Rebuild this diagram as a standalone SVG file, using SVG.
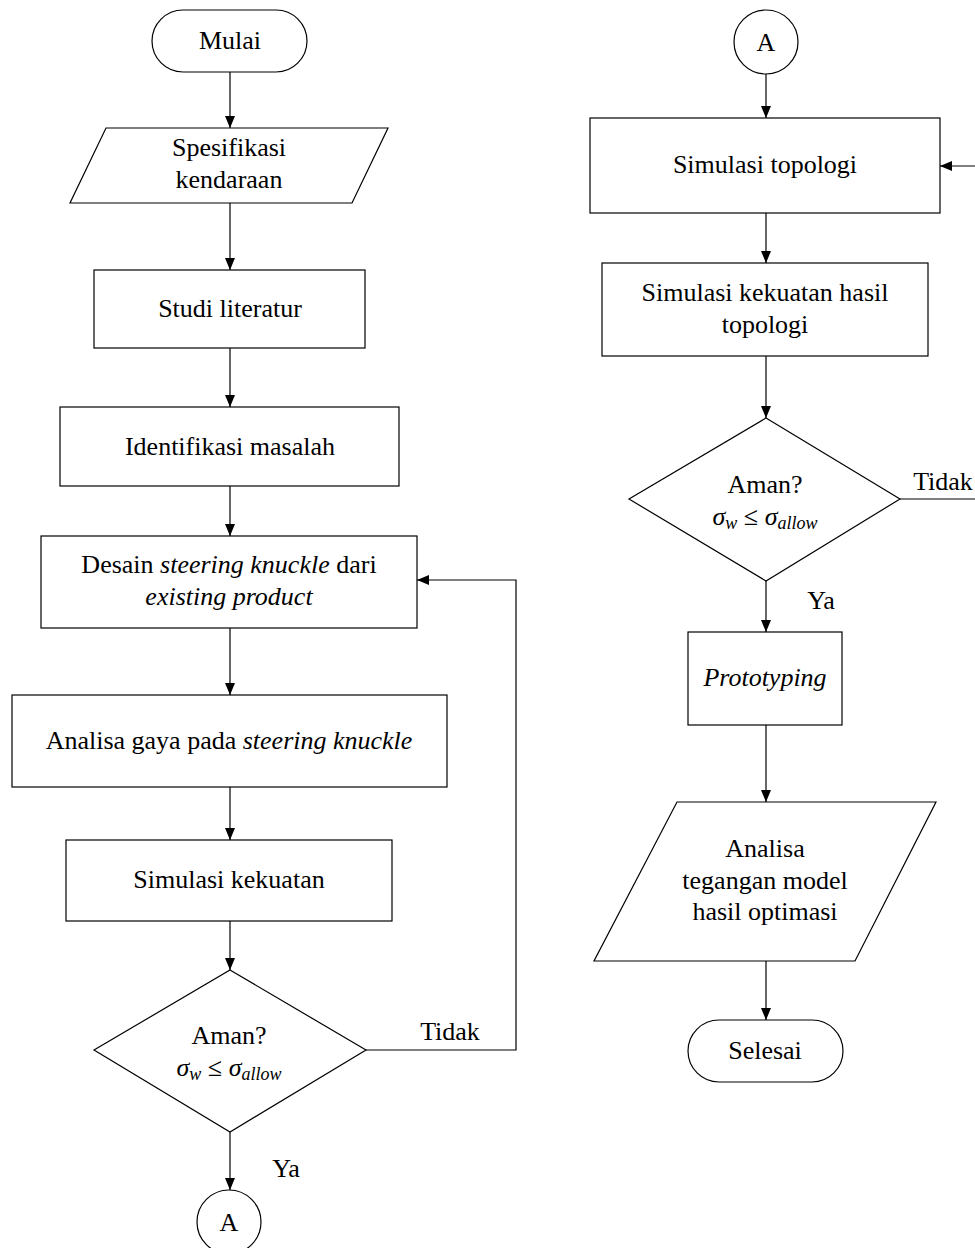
<svg xmlns="http://www.w3.org/2000/svg" width="975" height="1248" viewBox="0 0 975 1248">
<defs>
<marker id="arr" markerWidth="12" markerHeight="10" refX="12" refY="5" orient="auto" markerUnits="userSpaceOnUse">
<path d="M0,0 L12,5 L0,10 Z" fill="#000"/>
</marker>
<style>
.s{fill:#fff;stroke:#000;stroke-width:1.2}
.c{fill:none;stroke:#000;stroke-width:1.2;marker-end:url(#arr)}
text{font-size:26px;fill:#000;text-anchor:middle}
.i{font-style:italic}
.f{font-size:26px;font-style:italic}
.sub{font-size:18px;font-style:italic}
</style>
</defs>
<rect width="975" height="1248" fill="#fff"/>
<g font-family="'Liberation Serif', 'Times New Roman', Times, serif">
<g id="connectors">
<line class="c" x1="230" y1="72" x2="230" y2="128"/>
<line class="c" x1="230" y1="203" x2="230" y2="270"/>
<line class="c" x1="230" y1="348" x2="230" y2="407"/>
<line class="c" x1="230" y1="486" x2="230" y2="536"/>
<line class="c" x1="230" y1="628" x2="230" y2="695"/>
<line class="c" x1="230" y1="787" x2="230" y2="840"/>
<line class="c" x1="230" y1="921" x2="230" y2="970"/>
<line class="c" x1="230" y1="1132" x2="230" y2="1190"/>
<polyline class="c" points="366,1050 516,1050 516,580 417,580"/>
<text x="450" y="1040">Tidak</text>
<text x="286" y="1177">Ya</text>
<line class="c" x1="766" y1="74" x2="766" y2="118"/>
<line class="c" x1="766" y1="213" x2="766" y2="263"/>
<line class="c" x1="766" y1="356" x2="766" y2="418"/>
<line class="c" x1="766" y1="581" x2="766" y2="632"/>
<line class="c" x1="766" y1="725" x2="766" y2="802"/>
<line class="c" x1="766" y1="961" x2="766" y2="1020"/>
<polyline class="c" points="900,499 980,499 980,166 940,166"/>
<text x="943" y="490">Tidak</text>
<text x="821" y="609">Ya</text>
</g>
<g id="mulai">
<rect class="s" x="152" y="10" width="155" height="62" rx="31"/>
<text x="230" y="49">Mulai</text>
</g>
<g id="spesifikasi">
<polygon class="s" points="106,128 388,128 352,203 70,203"/>
<text x="229" y="156">Spesifikasi</text>
<text x="229" y="188">kendaraan</text>
</g>
<g id="studi">
<rect class="s" x="94" y="270" width="271" height="78"/>
<text x="230" y="317">Studi literatur</text>
</g>
<g id="identifikasi">
<rect class="s" x="60" y="407" width="339" height="79"/>
<text x="230" y="455">Identifikasi masalah</text>
</g>
<g id="desain">
<rect class="s" x="41" y="536" width="376" height="92"/>
<text x="229" y="573">Desain <tspan class="i">steering knuckle</tspan> dari</text>
<text x="229" y="605" class="i">existing product</text>
</g>
<g id="analisa-gaya">
<rect class="s" x="12" y="695" width="435" height="92"/>
<text x="229" y="749">Analisa gaya pada <tspan class="i">steering knuckle</tspan></text>
</g>
<g id="simulasi-kekuatan">
<rect class="s" x="66" y="840" width="326" height="81"/>
<text x="229" y="888">Simulasi kekuatan</text>
</g>
<g id="aman1">
<polygon class="s" points="230,970 366,1050 230,1132 94,1050"/>
<text x="229" y="1044">Aman?</text>
<text x="229" y="1076"><tspan class="f">σ</tspan><tspan class="sub" dy="4">w</tspan><tspan dy="-4"> ≤ </tspan><tspan class="f">σ</tspan><tspan class="sub" dy="4">allow</tspan></text>
</g>
<g id="a1">
<circle class="s" cx="229" cy="1222" r="32"/>
<text x="229" y="1231">A</text>
</g>
<g id="a2">
<circle class="s" cx="766" cy="42" r="32"/>
<text x="766" y="51">A</text>
</g>
<g id="simulasi-topologi">
<rect class="s" x="590" y="118" width="350" height="95"/>
<text x="765" y="173">Simulasi topologi</text>
</g>
<g id="simulasi-kekuatan-hasil">
<rect class="s" x="602" y="263" width="326" height="93"/>
<text x="765" y="301">Simulasi kekuatan hasil</text>
<text x="765" y="333">topologi</text>
</g>
<g id="aman2">
<polygon class="s" points="766,418 900,499 766,581 629,499"/>
<text x="765" y="493">Aman?</text>
<text x="765" y="525"><tspan class="f">σ</tspan><tspan class="sub" dy="4">w</tspan><tspan dy="-4"> ≤ </tspan><tspan class="f">σ</tspan><tspan class="sub" dy="4">allow</tspan></text>
</g>
<g id="prototyping">
<rect class="s" x="688" y="632" width="154" height="93"/>
<text x="765" y="686" class="i">Prototyping</text>
</g>
<g id="analisa-tegangan">
<polygon class="s" points="677,802 936,802 855,961 594,961"/>
<text x="765" y="857">Analisa</text>
<text x="765" y="889">tegangan model</text>
<text x="765" y="920">hasil optimasi</text>
</g>
<g id="selesai">
<rect class="s" x="688" y="1020" width="155" height="62" rx="31"/>
<text x="765" y="1059">Selesai</text>
</g>
</g>
</svg>
